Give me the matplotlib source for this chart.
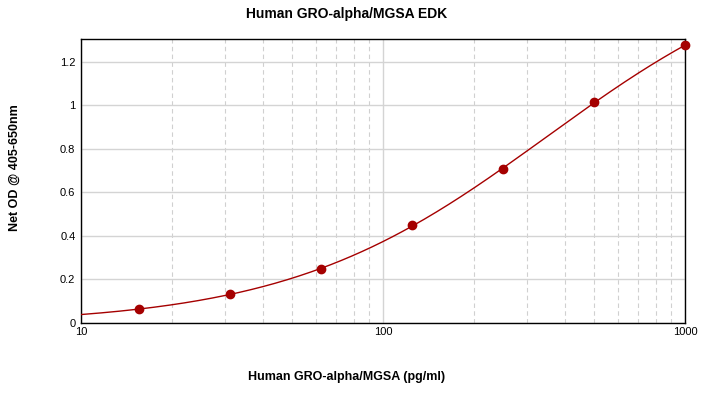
import numpy as np
import matplotlib
matplotlib.use("Agg")
import matplotlib.pyplot as plt
from matplotlib.ticker import FixedLocator, FuncFormatter, LogLocator, NullFormatter

plt.rcParams['font.family'] = ['Liberation Sans', 'DejaVu Sans']

# data
conc = [15.6, 31.25, 62.5, 125, 250, 500, 1000]
od = [0.064, 0.133, 0.248, 0.450, 0.708, 1.013, 1.275]
title = "Human GRO-alpha/MGSA EDK"
xlabel = "Human GRO-alpha/MGSA (pg/ml)"
ylabel = "Net OD @ 405-650nm"
yticks = [0, 0.2, 0.4, 0.6, 0.8, 1.0, 1.2]
xticks = [10, 100, 1000]

# 4PL fit via simple Levenberg-Marquardt
x = np.array(conc, float)
y = np.array(od, float)

def f(p, xx):
    a, b, c, d = p
    return d + (a - d) / (1 + (xx / c) ** b)

p = np.array([0.0, 1.0, 800.0, 3.0])
lam = 1e-3
for _ in range(2000):
    r = y - f(p, x)
    J = np.zeros((len(x), 4))
    for i in range(4):
        dp = np.zeros(4); dp[i] = 1e-6 * max(1.0, abs(p[i]))
        J[:, i] = (f(p + dp, x) - f(p - dp, x)) / (2 * dp[i])
    A = J.T @ J
    g = J.T @ r
    step = np.linalg.solve(A + lam * np.diag(np.diag(A)), g)
    pn = p + step
    if np.sum((y - f(pn, x)) ** 2) < np.sum(r ** 2):
        p = pn; lam *= 0.5
    else:
        lam *= 4

xs = np.logspace(1, 3, 300)
ys = f(p, xs)

fig = plt.figure(figsize=(7.03, 3.95), dpi=100)
ax = fig.add_axes([81/703, 1 - 323/395, (685-81)/703, (323-39)/395])
ax.set_xscale('log')
ax.set_xlim(10, 1000)
ax.set_ylim(0, 1.304)

ax.plot(xs, ys, color='#a50000', lw=1.0, zorder=3)
ax.plot(conc, od, 'o', color='#a50000', ms=6, zorder=4, clip_on=False)

ax.xaxis.set_major_locator(FixedLocator(xticks))
ax.xaxis.set_major_formatter(FuncFormatter(lambda v, pos: f"{int(v)}"))
ax.xaxis.set_minor_locator(LogLocator(base=10, subs=np.arange(2, 10)))
ax.xaxis.set_minor_formatter(NullFormatter())
ax.yaxis.set_major_locator(FixedLocator(yticks))
ax.yaxis.set_major_formatter(FuncFormatter(lambda v, pos: f"{v:g}"))

ax.grid(True, which='major', axis='both', color='#d4d4d4', lw=1.0, ls='-')
ax.grid(True, which='minor', axis='x', color='#d0d0d0', lw=0.8, ls=(0, (4, 3)))
ax.set_axisbelow(True)

ax.tick_params(which='both', length=0, labelsize=8, colors='#000000')
ax.tick_params(axis='x', pad=3)
ax.tick_params(axis='y', pad=4)
for s in ax.spines.values():
    s.set_linewidth(1.0)
    s.set_color('black')

fig.text(347/703, 1 - 14/395, title, ha='center', va='center', fontsize=10, fontweight='bold')
fig.text(347/703, 1 - 377/395, xlabel, ha='center', va='center', fontsize=9, fontweight='bold')
fig.text(15/703, 1 - 168/395, ylabel, ha='center', va='center', rotation=90, fontsize=9, fontweight='bold')

fig.savefig('out.png', dpi=100)
